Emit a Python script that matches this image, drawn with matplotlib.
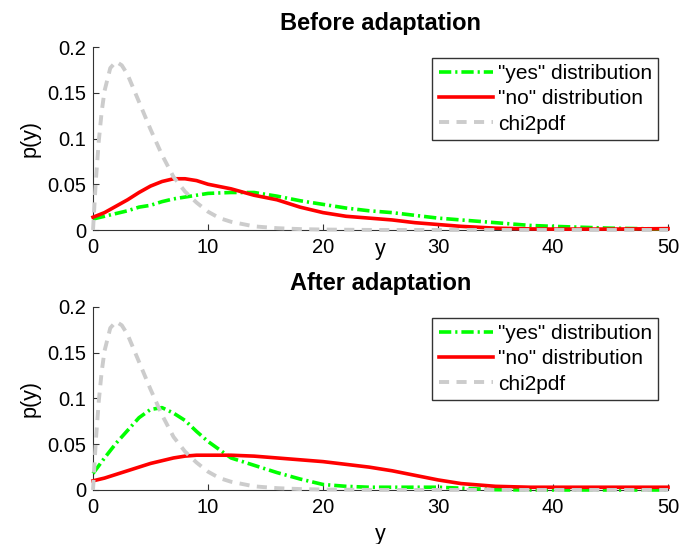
import numpy as np
import matplotlib
matplotlib.use('Agg')
import matplotlib.pyplot as plt

plt.rcParams['font.family'] = ['Liberation Sans', 'DejaVu Sans']

# 数据
y_grid = [0, 1, 2, 3, 4, 5, 6, 7, 8, 9, 10, 12, 14, 16, 18, 20, 22, 24, 26,
          28, 30, 32, 35, 38, 40, 45, 50]

before_yes = [0.012, 0.015, 0.018, 0.021, 0.025, 0.027, 0.031, 0.034, 0.036,
              0.038, 0.040, 0.041, 0.041, 0.037, 0.032, 0.028, 0.024, 0.021,
              0.019, 0.016, 0.013, 0.011, 0.008, 0.005, 0.004, 0.002, 0.001]
before_no = [0.014, 0.019, 0.026, 0.033, 0.041, 0.048, 0.053, 0.056, 0.056,
             0.054, 0.050, 0.045, 0.038, 0.033, 0.025, 0.019, 0.015, 0.013,
             0.011, 0.008, 0.006, 0.004, 0.002, 0.0012, 0.001, 0.001, 0.0015]

after_yes = [0.018, 0.035, 0.051, 0.065, 0.079, 0.088, 0.090, 0.084, 0.076,
             0.064, 0.053, 0.035, 0.027, 0.019, 0.012, 0.006, 0.004, 0.003,
             0.003, 0.003, 0.003, 0.002, 0.0003, 0.0, 0.0, 0.0, 0.0]
after_no = [0.010, 0.013, 0.017, 0.021, 0.025, 0.029, 0.032, 0.035, 0.037,
            0.038, 0.038, 0.038, 0.037, 0.035, 0.033, 0.031, 0.028, 0.025,
            0.021, 0.016, 0.011, 0.007, 0.004, 0.003, 0.003, 0.003, 0.003]

chi_grid = [0, 0.25, 0.5, 0.75, 1, 1.5, 2, 2.5, 3, 4, 5, 6, 7, 8, 9, 10, 11,
            12, 14, 16, 18, 20, 25, 30, 40, 50]
chi2_vals = [0, 0.055, 0.097, 0.129, 0.152, 0.177, 0.184, 0.180, 0.170, 0.140,
             0.110, 0.082, 0.058, 0.042, 0.030, 0.020, 0.013, 0.009, 0.004,
             0.002, 0.001, 0.0005, 0, 0, 0, 0]

titles = ['Before adaptation', 'After adaptation']
labels = ['"yes" distribution', '"no" distribution', 'chi2pdf']
x_ticks = [0, 10, 20, 30, 40, 50]
y_ticks = [0, 0.05, 0.1, 0.15, 0.2]
y_tick_labels = ['0', '0.05', '0.1', '0.15', '0.2']

fig = plt.figure(figsize=(6.8, 5.44), dpi=100)
ax1 = fig.add_axes([0.1368, 0.5772, 0.8456, 0.3364])
ax2 = fig.add_axes([0.1368, 0.0993, 0.8456, 0.3364])

panels = [(ax1, before_yes, before_no, -0.137),
          (ax2, after_yes, after_no, -0.273)]

for i, (ax, yes, no, label_y) in enumerate(panels):
    ax.plot(y_grid, yes, color='#00ff00', lw=2.6,
            linestyle=(0, (3.4, 1.1, 0.6, 1.1)), label=labels[0],
            zorder=3, clip_on=False)
    ax.plot(y_grid, no, color='#ff0000', lw=2.6, label=labels[1],
            zorder=3, clip_on=False)
    ax.plot(chi_grid, chi2_vals, color='#cccccc', lw=2.8,
            linestyle=(0, (2.6, 1.9)), label=labels[2],
            zorder=3, clip_on=False)

    ax.set_xlim(0, 50)
    ax.set_ylim(0, 0.2)
    ax.set_xticks(x_ticks)
    ax.set_yticks(y_ticks)
    ax.set_yticklabels(y_tick_labels)
    ax.tick_params(direction='in', length=4, width=0.8, color='#333333',
                   labelsize=14.5)
    ax.tick_params(axis='x', pad=6)
    ax.tick_params(axis='y', pad=5)
    for side in ['top', 'right']:
        ax.spines[side].set_visible(False)
    for side in ['left', 'bottom']:
        ax.spines[side].set_color('#333333')
        ax.spines[side].set_linewidth(0.8)

    ax.set_title(titles[i], fontsize=17, fontweight='bold', pad=12)
    ax.set_xlabel('y', fontsize=15.5, va='baseline')
    ax.xaxis.set_label_coords(0.5, label_y)
    ax.set_ylabel('p(y)', fontsize=15.5, va='center')
    ax.yaxis.set_label_coords(-0.11, 0.5)

    leg = ax.legend(loc='upper right', bbox_to_anchor=(0.983, 0.94),
                    fontsize=15, frameon=True, fancybox=False,
                    handlelength=2.6, handletextpad=0.25, borderpad=0.3,
                    labelspacing=0.3, borderaxespad=0)
    leg.get_frame().set_edgecolor('black')
    leg.get_frame().set_linewidth(1.0)

plt.savefig('out.png', dpi=100)
plt.close()
